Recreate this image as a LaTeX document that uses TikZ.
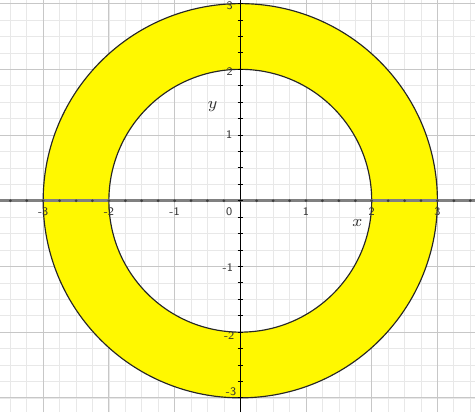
\documentclass[tikz,border=0pt]{standalone}
\usepackage{tikz}
\usetikzlibrary{positioning}
\definecolor{ringyellow}{RGB}{255,248,0}

\begin{document}
\begin{tikzpicture}[x=1cm,y=1cm,
  ticklabel/.style={font=\sffamily\fontsize{5}{6}\selectfont,inner sep=0pt,text=black!80},
  axisname/.style={font=\fontsize{7.5}{8}\selectfont,inner sep=0pt,text=black!80}]
  % 圆环 2 <= r <= 3 画在坐标网格上。
  \useasboundingbox (-3.657,-3.216) rectangle (3.572,3.055);
  \draw[black!9,line width=0.3pt,step=0.25] (-3.657,-3.216) grid (3.572,3.055);
  \draw[black!22,line width=0.4pt,step=1] (-3.657,-3.216) grid (3.572,3.055);
  \fill[ringyellow,even odd rule] (0,0) circle (3) (0,0) circle (2);
  \draw[black!85,line width=0.5pt] (0,0) circle (3);
  \draw[black!85,line width=0.5pt] (0,0) circle (2);
  \coordinate (xl) at (-3.657,0);
  \coordinate (xr) at (3.572,0);
  \coordinate (yb) at (0,-3.216);
  \coordinate (yt) at (0,3.055);
  \draw[black!50,line width=1.1pt] (xl) -- (xr);
  \draw[black,line width=0.6pt] (yb) -- (yt);
  \foreach \t in {-3.5,-3.25,...,3.5} \fill[black!75] (\t,0) circle (0.65pt);
  \foreach \t in {-3,-2.75,...,3} \draw[black,line width=0.4pt] (-0.04,\t) -- (0.04,\t);
  \node[ticklabel] (xm3) at (-3,-0.16) {-3};
  \node[ticklabel] (xm2) at (-2,-0.16) {-2};
  \node[ticklabel] (xm1) at (-1,-0.16) {-1};
  \node[ticklabel] (o) at (-0.17,-0.17) {0};
  \node[ticklabel] (xp1) at (1,-0.17) {1};
  \node[ticklabel] (xp2) at (2,-0.17) {2};
  \node[ticklabel] (xp3) at (3,-0.17) {3};
  \node[ticklabel] (yp1) at (-0.17,1) {1};
  \node[ticklabel] (yp2) at (-0.16,1.96) {2};
  \node[ticklabel] (yp3) at (-0.16,2.97) {3};
  \node[ticklabel] (ym1) at (-0.19,-1.02) {-1};
  \node[ticklabel] (ym2) at (-0.17,-2.06) {-2};
  \node[ticklabel] (ym3) at (-0.14,-2.9) {-3};
  \node[axisname] (xname) at (1.78,-0.34) {$x$};
  \node[axisname] (yname) at (-0.42,1.43) {$y$};
\end{tikzpicture}
\end{document}
